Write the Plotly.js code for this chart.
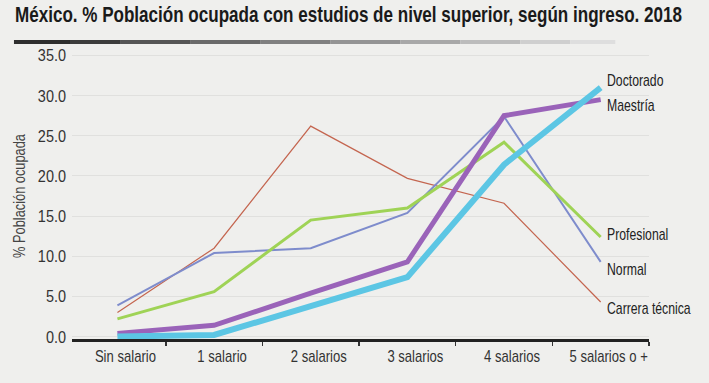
<!DOCTYPE html>
<html>
<head>
<meta charset="utf-8">
<script src="https://cdn.plot.ly/plotly-3.0.1.min.js"></script>
<style>
html,body{margin:0;padding:0;background:#efefed;}
#chart{width:709px;height:383px;}
</style>
</head>
<body>
<div id="chart"></div>
<script>
// ---- data ----
var categories = ["Sin salario", "1 salario", "2 salarios", "3 salarios", "4 salarios", "5 salarios o +"];
var seriesNames = ["Carrera técnica", "Normal", "Profesional", "Maestría", "Doctorado"];
var carreraTecnica = [3.0, 11.0, 26.2, 19.7, 16.6, 4.3];
var normal        = [3.9, 10.4, 11.0, 15.4, 27.4, 9.3];
var profesional   = [2.2, 5.6, 14.5, 16.0, 24.2, 12.4];
var maestria      = [0.4, 1.4, 5.4, 9.3, 27.5, 29.5];
var doctorado     = [0.0, 0.2, 3.8, 7.4, 21.4, 31.0];
var yTickVals = [0, 5, 10, 15, 20, 25, 30, 35];
var titleText = "México. % Población ocupada con estudios de nivel superior, según ingreso. 2018";
var yTitleText = "% Población ocupada";

// ---- styles ----
var FONT = "'Liberation Sans', Arial, sans-serif";
var seriesValues = [carreraTecnica, normal, profesional, maestria, doctorado];
var styles = [
  {color: "#c4654f", width: 1.2, yshift: -6},
  {color: "#7e8ccc", width: 2, yshift: -8},
  {color: "#9fd356", width: 3, yshift: 2},
  {color: "#9a63b9", width: 5, yshift: -6},
  {color: "#5cc6e4", width: 6, yshift: 7}
];

var traces = seriesNames.map(function(name, i){
  return {
    type: "scatter", mode: "lines",
    x: categories, y: seriesValues[i], name: name,
    line: {color: styles[i].color, width: styles[i].width},
    hoverinfo: "skip"
  };
});

var annotations = seriesNames.map(function(name, i){
  var vals = seriesValues[i];
  return {
    x: categories[categories.length-1], y: vals[vals.length-1],
    xref: "x", yref: "y", text: name, showarrow: false, align: "left",
    xanchor: "left", yanchor: "middle", xshift: 4, yshift: styles[i].yshift,
    font: {family: FONT, size: 17, color: "#222"}
  };
});

// gradient bar under title (decoration)
var barColors = ["#2e2e2e", "#3c3c3c", "#555555", "#6a6a6a", "#808080", "#949494", "#a8a8a8", "#bcbcbc", "#cfcfcf", "#dedede"];
var barStops  = [14, 70, 120, 190, 260, 330, 400, 460, 520, 570, 615];
var shapes = barColors.map(function(c, i){
  return {type: "rect", xref: "paper", yref: "paper",
    x0: (barStops[i]-72)/576.7, x1: (barStops[i+1]-72)/576.7,
    y0: (383-43.8-43.5)/286.6, y1: (383-43.8-39.5)/286.6,
    fillcolor: c, line: {width: 0}, layer: "above"};
});

var layout = {
  width: 709, height: 383,
  paper_bgcolor: "#efefed", plot_bgcolor: "#efefed",
  margin: {l: 72, r: 60.3, t: 52.6, b: 43.8},
  showlegend: false,
  title: {
    text: "<b>" + titleText + "</b>",
    x: 15/709, xanchor: "left", xref: "container",
    y: 1 - 7/383, yanchor: "top", yref: "container",
    font: {family: FONT, size: 22, color: "#1a1a1a"}
  },
  xaxis: {
    type: "category", range: [-0.47, 5.5],
    showline: true, linecolor: "#222", linewidth: 3,
    ticks: "outside", tickson: "boundaries", ticklen: 4, tickcolor: "#333", tickwidth: 1.5,
    showgrid: false, zeroline: false,
    tickangle: 0, ticklabelshift: 8,
    tickfont: {family: FONT, size: 17, color: "#333"}
  },
  yaxis: {
    range: [-0.3, 35.3], tickvals: yTickVals, tickformat: ".1f",
    showgrid: true, gridcolor: "#e0e0de", gridwidth: 1,
    zeroline: false, showline: false, ticks: "",
    ticklabelstandoff: 5,
    tickfont: {family: FONT, size: 17, color: "#333"},
    title: {text: yTitleText, standoff: 3, font: {family: FONT, size: 16, color: "#444"}}
  },
  annotations: annotations,
  shapes: shapes
};

// condense text horizontally (the reference uses a condensed typeface)
function condense(el, factor, fixed){
  var w = el.getComputedTextLength();
  if (!w) return;
  el.setAttribute("textLength", fixed ? fixed : (w * factor));
  el.setAttribute("lengthAdjust", "spacingAndGlyphs");
}

Plotly.newPlot("chart", traces, layout, {staticPlot: true, displayModeBar: false}).then(function(gd){
  gd.querySelectorAll(".gtitle").forEach(function(t){ condense(t, 1, 667); });
  gd.querySelectorAll(".xtick text").forEach(function(t){ condense(t, 0.77); });
  gd.querySelectorAll(".ytick text").forEach(function(t){ condense(t, 0.85); });
  gd.querySelectorAll(".ytitle").forEach(function(t){ condense(t, 0.8); });
  gd.querySelectorAll(".annotation-text").forEach(function(t){ condense(t, 0.72); });
});
</script>
</body>
</html>
